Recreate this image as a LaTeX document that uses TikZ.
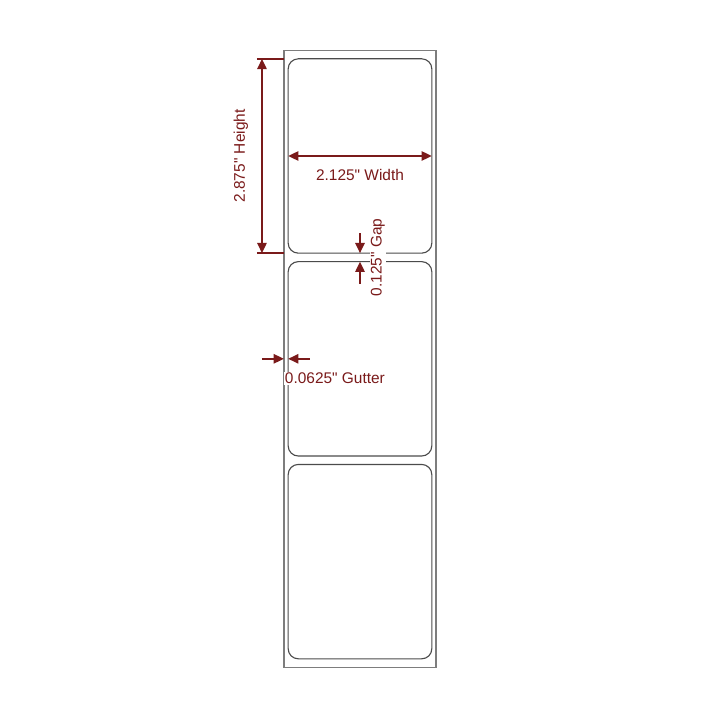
\documentclass[tikz,border=0pt]{standalone}
\usepackage{fontspec}
\newfontfamily\dimfont{Liberation Sans}
\usetikzlibrary{arrows.meta}
\definecolor{dimred}{RGB}{122,26,26}
\definecolor{linergray}{RGB}{125,125,125}
\definecolor{labelgray}{RGB}{75,75,75}
\tikzset{
  liner/.style={draw=linergray, line width=1.3pt},
  labelbox/.style={draw=labelgray, line width=1.2pt, rounded corners=0.15in},
  extline/.style={draw=dimred, line width=1.9pt},
  dimarrow/.style={draw=dimred, line width=1.9pt, -{Triangle[length=11pt,width=10pt]}},
  dimboth/.style={draw=dimred, line width=1.9pt, {Triangle[length=11pt,width=10pt]}-{Triangle[length=11pt,width=10pt]}},
  dimtext/.style={text=dimred, fill=white, inner sep=1pt, font=\dimfont\fontsize{16.5}{20}\selectfont}
}
\begin{document}
\begin{tikzpicture}[x=1in,y=1in]
\useasboundingbox (-4.2,-0.78) rectangle (6.45,9.87);
% liner and labels
\draw[liner] (0,0) rectangle (2.25,9.125);
\foreach \y in {0.125,3.125,6.125}
  \draw[labelbox] (0.0625,\y) rectangle (2.1875,\y+2.875);

% height
\coordinate (htopext) at (-0.4,9);
\coordinate (htopliner) at (0,9);
\coordinate (hbotext) at (-0.4,6.125);
\coordinate (hbotliner) at (0,6.125);
\coordinate (htop) at (-0.325,9);
\coordinate (hbot) at (-0.325,6.125);
\draw[extline] (htopext) -- (htopliner);
\draw[extline] (hbotext) -- (hbotliner);
\draw[dimboth] (htop) -- (hbot);
\node[dimtext, rotate=90] (hlabel) at (-0.636,7.5625) {2.875" Height};

% width
\coordinate (wleft) at (0.0625,7.5625);
\coordinate (wright) at (2.1875,7.5625);
\draw[dimboth] (wleft) -- (wright);
\node[dimtext] (wlabel) at (1.125,7.28) {2.125" Width};

% gap
\coordinate (gaptopstart) at (1.125,6.42);
\coordinate (gaptop) at (1.125,6.125);
\coordinate (gapbotstart) at (1.125,5.67);
\coordinate (gapbot) at (1.125,6.0);
\draw[dimarrow] (gaptopstart) -- (gaptop);
\draw[dimarrow] (gapbotstart) -- (gapbot);
\node[dimtext, rotate=90] (gaplabel) at (1.39,6.06) {0.125" Gap};

% gutter
\coordinate (gutleftstart) at (-0.325,4.5625);
\coordinate (gutleft) at (0,4.5625);
\coordinate (gutrightstart) at (0.385,4.5625);
\coordinate (gutright) at (0.0625,4.5625);
\draw[dimarrow] (gutleftstart) -- (gutleft);
\draw[dimarrow] (gutrightstart) -- (gutright);
\node[dimtext] (gutlabel) at (0.754,4.275) {0.0625" Gutter};
\end{tikzpicture}
\end{document}
